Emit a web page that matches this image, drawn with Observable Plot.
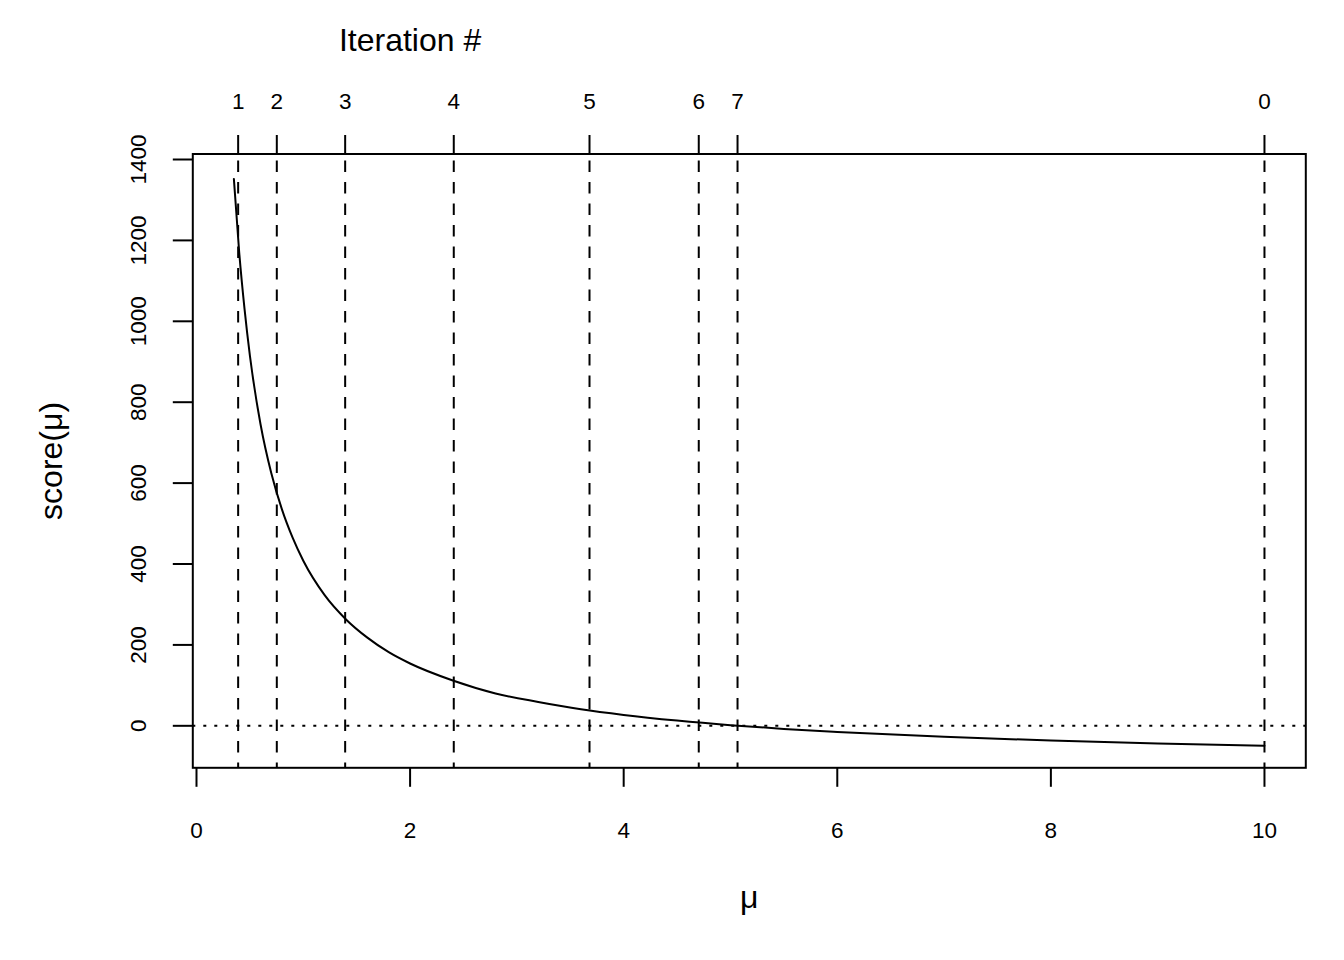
<!DOCTYPE html>
<html>
<head>
<meta charset="utf-8">
<script src="https://cdn.jsdelivr.net/npm/d3@7"></script>
<script src="https://cdn.jsdelivr.net/npm/@observablehq/plot@0.6"></script>
<style>
  html, body { margin: 0; padding: 0; background: #fff; }
</style>
</head>
<body>
<div id="chart"></div>
<script>
// Curve: score(mu)
const muValues    = [0.35, 0.40, 0.45, 0.50, 0.60, 0.70, 0.80, 0.90, 1.0, 1.2, 1.4, 1.6, 1.8, 2.0, 2.4, 2.8, 3.2, 3.6, 4.0, 4.5, 5.0, 5.5, 6, 7, 8, 9, 10];
const scoreValues = [1352, 1170, 1030, 915, 745, 625, 535, 465, 408, 323, 263, 218, 182, 154, 112, 80, 59, 41, 27, 13, 1.6, -7.6, -15, -27, -36.5, -43.6, -49.2];

// Newton iterations (vertical dashed lines) and their labels
const iterX      = [0.390, 0.752, 1.392, 2.409, 3.680, 4.703, 5.066, 10];
const iterLabels = ["1", "2", "3", "4", "5", "6", "7", "0"];

// Axis ticks
const xTicks = [0, 2, 4, 6, 8, 10];
const yTicks = [0, 200, 400, 600, 800, 1000, 1200, 1400];

// Text
const topTitle = "Iteration #";
const topTitleAt = 2;
const xLabel = "\u03BC";
const yLabel = "score(\u03BC)";

const curve = muValues.map((m, i) => ({mu: m, score: scoreValues[i]}));
const iterLabelMap = new Map(iterX.map((x, i) => [x, iterLabels[i]]));

const chart = Plot.plot({
  width: 1344,
  height: 960,
  marginLeft: 192.3,
  marginRight: 38.7,
  marginTop: 153.5,
  marginBottom: 192.7,
  style: {fontFamily: "'Liberation Sans', Arial, Helvetica, sans-serif", background: "white", color: "black", overflow: "visible"},
  x: {domain: [-0.0346, 10.387], label: null},
  y: {domain: [-103.8, 1413.6], label: null},
  marks: [
    Plot.ruleY([0], {stroke: "black", strokeWidth: 2, strokeDasharray: "3 8"}),
    Plot.ruleX(iterX, {stroke: "black", strokeWidth: 2, strokeDasharray: "11.5 10", strokeDashoffset: 14.5}),
    Plot.line(curve, {x: "mu", y: "score", stroke: "black", strokeWidth: 2, curve: "monotone-x"}),
    Plot.frame({stroke: "black", strokeWidth: 2}),
    // bottom axis
    Plot.axisX({anchor: "bottom", ticks: xTicks, tickSize: 19.5, tickPadding: 34.7, strokeWidth: 2,
      fontSize: 22.5, fill: "black", stroke: "black", label: null, tickFormat: d => String(d)}),
    // top axis (iterations)
    Plot.axisX({anchor: "top", ticks: iterX, tickSize: 19.5, tickPadding: 25.8, strokeWidth: 2,
      fontSize: 22.5, fill: "black", stroke: "black", label: null, tickFormat: d => iterLabelMap.get(d)}),
    // left axis ticks
    Plot.axisY({anchor: "left", ticks: yTicks, tickSize: 19.5, strokeWidth: 2, stroke: "black",
      label: null, tickFormat: () => ""}),
    // left axis rotated labels
    Plot.text(yTicks, {y: d => d, frameAnchor: "left", dx: -47.3, rotate: -90, lineAnchor: "bottom",
      textAnchor: "middle", fontSize: 22.5, fill: "black", text: d => String(d)}),
    // titles
    Plot.text([topTitle], {x: () => topTitleAt, frameAnchor: "top", dy: -102.8, lineAnchor: "bottom",
      textAnchor: "middle", fontSize: 32, fill: "black", text: d => d}),
    Plot.text([xLabel], {frameAnchor: "bottom", dy: 139.7, lineAnchor: "bottom",
      textAnchor: "middle", fontSize: 32, fill: "black", text: d => d}),
    Plot.text([yLabel], {frameAnchor: "left", dx: -130.6, rotate: -90, lineAnchor: "bottom",
      textAnchor: "middle", fontSize: 32, fill: "black", text: d => d})
  ]
});

document.getElementById("chart").appendChild(chart);
</script>
</body>
</html>
